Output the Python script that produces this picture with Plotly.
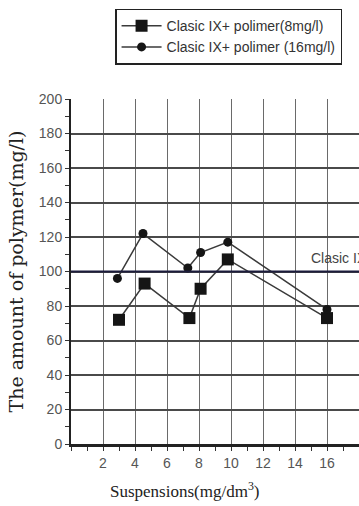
import plotly.graph_objects as go

# Data
susp_8 = [3.0, 4.6, 7.4, 8.1, 9.8, 16.0]
poly_8 = [72, 93, 73, 90, 107, 73]
susp_16 = [2.9, 4.5, 7.3, 8.1, 9.8, 16.0]
poly_16 = [96, 122, 102, 111, 117, 78]
series_names = ["Clasic IX+ polimer(8mg/l)", "Clasic IX+ polimer (16mg/l)"]
ref_value = 100
ref_label = "Clasic IX"
x_ticks = [2, 4, 6, 8, 10, 12, 14, 16]
y_ticks = [0, 20, 40, 60, 80, 100, 120, 140, 160, 180, 200]
x_title = "Suspensions(mg/dm<sup>3</sup>)"
y_title = "The amount of polymer(mg/l)"

fig = go.Figure()
fig.add_trace(go.Scatter(
    x=susp_8, y=poly_8, name=series_names[0], mode="lines+markers",
    line=dict(color="#3a3a3a", width=1.5),
    marker=dict(symbol="square", size=12, color="#151515"),
))
fig.add_trace(go.Scatter(
    x=susp_16, y=poly_16, name=series_names[1], mode="lines+markers",
    line=dict(color="#3a3a3a", width=1.5),
    marker=dict(symbol="circle", size=9, color="#151515"),
))

fig.add_shape(type="line", xref="paper", x0=0, x1=1, yref="y", y0=ref_value, y1=ref_value,
              line=dict(color="#1c1c3c", width=2.2))
fig.add_annotation(x=14.9, y=ref_value, xref="x", yref="y", text=ref_label, showarrow=False,
                   xanchor="left", yanchor="bottom", yshift=4,
                   font=dict(family="Liberation Sans", size=14, color="#444"))

# x-axis title placed as annotation (reference title sits left of plot centre)
fig.add_annotation(x=0.396, y=-0.133, xref="paper", yref="paper", text=x_title,
                   showarrow=False, xanchor="center", yanchor="middle",
                   font=dict(family="Liberation Serif", size=17, color="#222"))

fig.update_xaxes(
    range=[0, 18], tickvals=x_ticks, ticktext=[str(v) for v in x_ticks],
    showgrid=True, gridcolor="#6a6a6a", gridwidth=1,
    showline=True, linecolor="#222", linewidth=2.5,
    ticks="outside", ticklen=4, tickcolor="#333",
    minor=dict(dtick=1, ticks="outside", ticklen=4, tickcolor="#333", showgrid=False),
    tickfont=dict(family="Liberation Sans", size=14, color="#555"),
    zeroline=False,
)
fig.update_yaxes(
    range=[0, 200], tickvals=y_ticks,
    showgrid=True, gridcolor="#4a4a4a", gridwidth=1.8,
    showline=True, linecolor="#222", linewidth=2,
    ticks="outside", ticklen=4, tickcolor="#333",
    minor=dict(dtick=10, ticks="outside", ticklen=4, tickcolor="#333", showgrid=False),
    tickfont=dict(family="Liberation Sans", size=14, color="#555"),
    title=dict(text=y_title, standoff=10,
               font=dict(family="DejaVu Serif", size=19, color="#222")),
    zeroline=False,
)

fig.update_layout(
    width=359, height=506,
    margin=dict(l=71, r=0, t=99, b=62),
    paper_bgcolor="white", plot_bgcolor="white",
    showlegend=True,
    legend=dict(x=0.153, y=1.262, xanchor="left", yanchor="top",
                bgcolor="white", bordercolor="#222", borderwidth=1.5,
                font=dict(family="Liberation Sans", size=14, color="#333"),
                itemwidth=40, tracegroupgap=0),
)

fig.write_html("out.html")
